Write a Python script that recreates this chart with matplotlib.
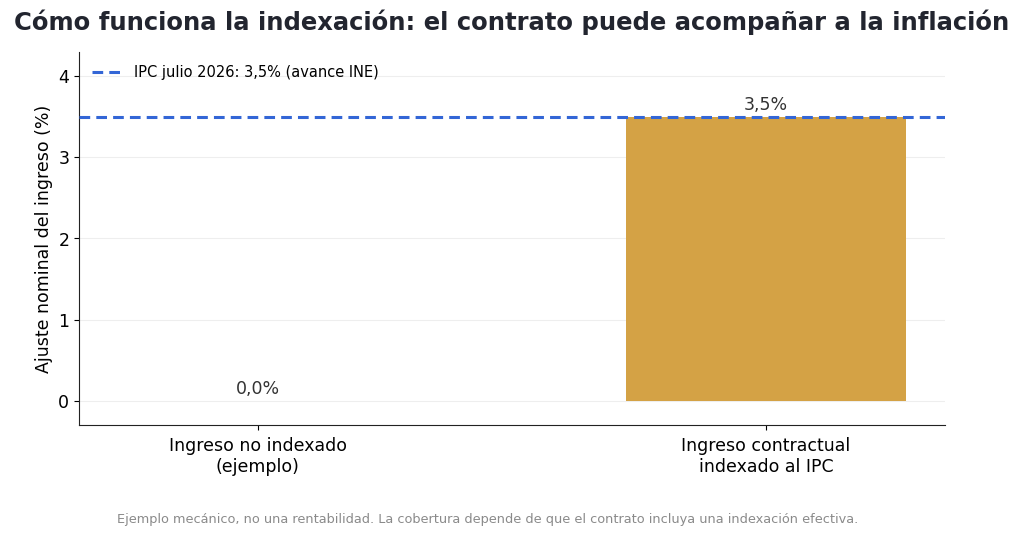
import matplotlib
matplotlib.use("Agg")
import matplotlib.pyplot as plt

categories = ["Ingreso no indexado\n(ejemplo)", "Ingreso contractual\nindexado al IPC"]
values = [0.0, 3.5]
ipc = 3.5
ipc_label = "IPC julio 2026: 3,5% (avance INE)"
title = "Cómo funciona la indexación: el contrato puede acompañar a la inflación"
ylabel = "Ajuste nominal del ingreso (%)"
footer = "Ejemplo mecánico, no una rentabilidad. La cobertura depende de que el contrato incluya una indexación efectiva."

fig = plt.figure(figsize=(10.24, 5.38), dpi=100)
ax = fig.add_axes([79/1024, 1-425/538, (945-79)/1024, (425-52)/538])

x = list(range(len(categories)))
ax.bar(x, values, width=0.55, color="#D4A245", zorder=2)
ax.axhline(ipc, color="#3366D6", linestyle=(0, (3.5, 2)), linewidth=2.2, label=ipc_label, zorder=3)
for xi, v in zip(x, values):
    ax.text(xi, v + 0.03, f"{v:.1f}%".replace(".", ","), ha="center", va="bottom",
            fontsize=12.5, color="#333333")

ax.set_xlim(-0.352, 1.352)
ax.set_ylim(-0.3, 4.3)
ax.set_yticks([0, 1, 2, 3, 4])
ax.set_xticks(x)
ax.set_xticklabels(categories, fontsize=12.5)
ax.tick_params(axis="y", labelsize=12.5)
ax.tick_params(axis="x", pad=5)
ax.set_ylabel(ylabel, fontsize=12.5)
ax.grid(axis="y", color="#eeeeee", linewidth=0.8, zorder=0)
ax.set_axisbelow(True)
for s in ["top", "right"]:
    ax.spines[s].set_visible(False)
ax.spines["left"].set_color("#222222")
ax.spines["bottom"].set_color("#222222")

ax.legend(loc="upper left", frameon=False, fontsize=10.5, handlelength=2.2,
          borderaxespad=0.5, handletextpad=0.7)

fig.text(0.5, 1-22/538, title, ha="center", va="center", fontsize=17.5, fontweight="bold", color="#22252f")
fig.text(488/1024, 1-519/538, footer, ha="center", va="center", fontsize=9.3, color="#8a8a8a")

fig.savefig("out.png", dpi=100)
